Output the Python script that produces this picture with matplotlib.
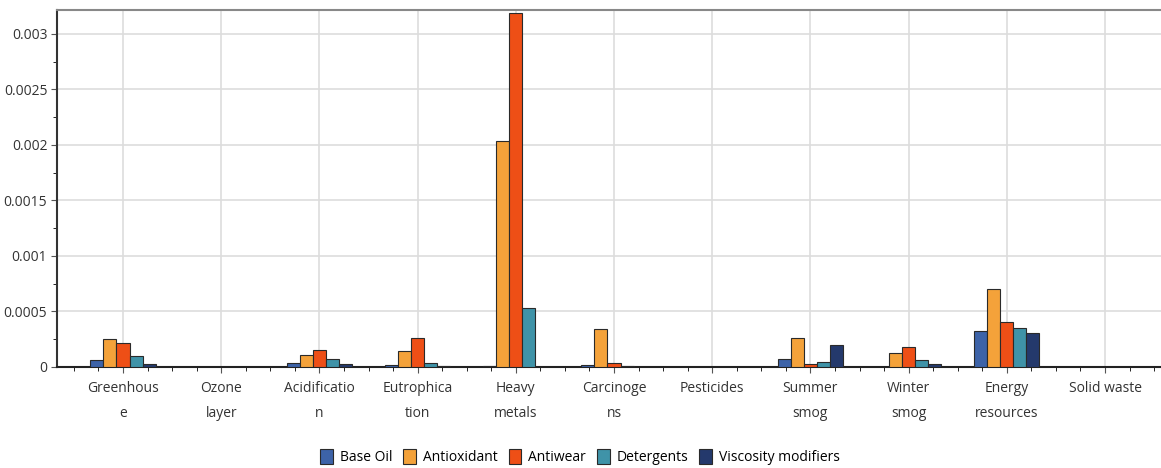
import numpy as np
import matplotlib
matplotlib.use("Agg")
import matplotlib.pyplot as plt
from matplotlib.ticker import FuncFormatter, MultipleLocator

plt.rcParams['font.family'] = ['Open Sans', 'DejaVu Sans']

categories = ['Greenhous\ne', 'Ozone\nlayer', 'Acidificatio\nn', 'Eutrophica\ntion',
              'Heavy\nmetals', 'Carcinoge\nns', 'Pesticides', 'Summer\nsmog',
              'Winter\nsmog', 'Energy\nresources', 'Solid waste']

base_oil = [0.00006, 0.000003, 0.000035, 0.000015, 0.00001, 0.00002, 0.000003,
            0.000074, 0.000004, 0.00032, 0.000004]
antioxidant = [0.00025, 0.000003, 0.000112, 0.000141, 0.00204, 0.000338, 0.000003,
               0.000262, 0.000126, 0.0007, 0.000004]
antiwear = [0.00022, 0.000003, 0.000153, 0.000262, 0.00319, 0.000035, 0.000003,
            0.000024, 0.000182, 0.000406, 0.000004]
detergents = [0.000103, 0.000003, 0.000074, 0.000035, 0.000535, 0.000012, 0.000003,
              0.000044, 0.000065, 0.000353, 0.000004]
viscosity = [0.000024, 0.000003, 0.000024, 0.000012, 0.000003, 0.000004, 0.000003,
             0.000194, 0.000024, 0.000309, 0.000004]

series = [('Base Oil', base_oil, '#3d63a8'),
          ('Antioxidant', antioxidant, '#f4a23a'),
          ('Antiwear', antiwear, '#ee4f16'),
          ('Detergents', detergents, '#3f93a8'),
          ('Viscosity modifiers', viscosity, '#24396c')]

fig = plt.figure(figsize=(11.61, 4.68), dpi=100)
ax = fig.add_axes([57 / 1161, 1 - 367 / 468, 1 - 57 / 1161, (367 - 10) / 468])

x = np.arange(len(categories))
w = 0.133
for i, (name, vals, col) in enumerate(series):
    ax.bar(x + (i - 2) * w, vals, w, color=col, edgecolor='#2a2a2a',
           linewidth=0.8, label=name, zorder=3)

ax.set_xlim(-0.672, 10.57)
ax.set_ylim(0, 0.003216)
ax.set_xticks(x)
ax.set_xticklabels(categories, linespacing=1.9)
ax.xaxis.set_minor_locator(MultipleLocator(0.25))
ax.yaxis.set_major_locator(MultipleLocator(0.0005))
ax.yaxis.set_minor_locator(MultipleLocator(0.00025))
ax.yaxis.set_major_formatter(FuncFormatter(lambda v, p: '%g' % round(v, 6)))

ax.grid(True, color='#dddddd', linewidth=1.2, zorder=0)
ax.tick_params(axis='both', labelsize=10, colors='#555555', labelcolor='#333333')
ax.tick_params(axis='x', which='major', length=4, pad=6)
ax.tick_params(axis='x', which='minor', length=3)
ax.tick_params(axis='y', which='major', length=4, pad=3)
ax.tick_params(axis='y', which='minor', length=3)

ax.spines['left'].set_color('#333333')
ax.spines['left'].set_linewidth(1.5)
ax.spines['bottom'].set_color('#222222')
ax.spines['bottom'].set_linewidth(1.5)
ax.spines['top'].set_color('#888888')
ax.spines['top'].set_linewidth(1.5)
ax.spines['right'].set_visible(False)

fig.legend(loc='center', bbox_to_anchor=(580 / 1161, 1 - 457 / 468), ncol=5,
           frameon=False, fontsize=10, handlelength=0.9, handleheight=1.3,
           handletextpad=0.5, columnspacing=0.8)

fig.savefig('out.png', dpi=100)
